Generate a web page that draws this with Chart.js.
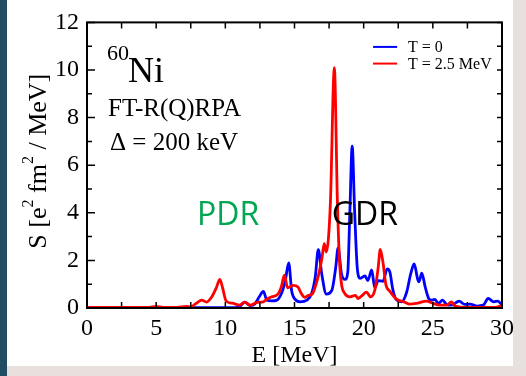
<!DOCTYPE html>
<html>
<head>
<meta charset="utf-8">
<script src="https://cdn.jsdelivr.net/npm/chart.js@4.4.0/dist/chart.umd.min.js"></script>
<style>
  html, body { margin: 0; padding: 0; }
  body { width: 526px; height: 376px; position: relative; overflow: hidden; background: #e7e0dd; }
  #strip { position: absolute; left: 0; top: 0; width: 7px; height: 376px; background: #1f4d63; }
  #panel { position: absolute; left: 7px; top: 0; width: 506px; height: 366px; background: #fff; }
  #c { position: absolute; left: 0; top: 0; }
</style>
</head>
<body>
<div id="strip"></div>
<div id="panel"></div>
<canvas id="c" width="526" height="376"></canvas>
<script>
// strength functions of 60Ni
const energyT0 = [0, 5, 10.5, 11.0, 11.4, 11.8, 12.15, 12.45, 12.75, 13.0, 13.35, 13.7, 14.1, 14.35, 14.58, 14.8, 15.05, 15.4, 15.9, 16.25,
  16.5, 16.72, 16.97, 17.3, 17.7, 17.98, 18.15, 18.4, 18.65, 18.85, 19.0, 19.17, 19.35, 19.55, 19.75, 20.1, 20.3, 20.58, 20.8, 21.05,
  21.4, 21.7, 21.9, 22.1, 22.35, 22.75, 23.1, 23.4, 23.65, 23.9, 24.0, 24.2, 24.45, 24.7, 24.9, 25.15, 25.4, 25.7, 26.0, 26.35,
  26.9, 27.3, 27.7, 28.2, 28.65, 29.0, 29.4, 29.7, 30.0];
const strengthT0 = [0.01, 0.01, 0.01, 0.05, 0.25, 0.1, 0.18, 0.47, 0.7, 0.33, 0.3, 0.32, 0.67, 1.2, 1.9, 0.7, 0.36, 0.26, 0.33, 0.63,
  1.3, 2.45, 1.43, 0.58, 0.74, 1.7, 2.52, 1.43, 1.2, 1.5, 4.0, 6.8, 4.0, 1.6, 1.25, 1.35, 1.15, 1.6, 0.85, 1.15,
  1.12, 1.64, 1.5, 0.8, 0.35, 0.26, 0.65, 1.43, 1.85, 1.22, 1.1, 1.46, 0.88, 0.4, 0.33, 0.36, 0.19, 0.33, 0.15, 0.12,
  0.29, 0.15, 0.16, 0.08, 0.12, 0.4, 0.26, 0.29, 0.12];

const energyT25 = [0, 2, 4.5, 5.0, 5.5, 6.5, 7.2, 7.5, 7.9, 8.3, 8.65, 9.0, 9.35, 9.6, 9.8, 10.05, 10.5, 11.05, 11.4, 11.8,
  12.3, 12.75, 13.0, 13.35, 13.8, 14.05, 14.27, 14.5, 14.9, 15.25, 15.5, 15.75, 16.0, 16.3, 16.7, 16.97, 17.15, 17.3, 17.45, 17.6,
  17.88, 18.1, 18.25, 18.4, 18.65, 19.0, 19.4, 19.6, 19.9, 20.2, 20.5, 20.8, 21.05, 21.2, 21.4, 21.6, 21.9, 22.4, 22.9, 23.35,
  23.8, 24.55, 24.9, 25.5, 26.0, 26.35, 26.6, 27.5, 29.5, 30.0];
const strengthT25 = [0.02, 0.02, 0.03, 0.07, 0.03, 0.03, 0.07, 0.05, 0.2, 0.33, 0.25, 0.45, 0.85, 1.2, 0.85, 0.3, 0.2, 0.12, 0.25, 0.12,
  0.24, 0.26, 0.37, 0.47, 0.58, 0.9, 1.38, 0.85, 0.95, 0.88, 0.6, 0.45, 0.53, 0.6, 1.3, 2.05, 2.7, 2.35, 2.9, 4.5,
  10.1, 4.5, 2.0, 1.0, 0.6, 0.47, 0.53, 0.4, 0.53, 0.67, 0.47, 0.74, 1.7, 2.46, 1.9, 1.0, 0.7, 0.36, 0.26, 0.16,
  0.19, 0.29, 0.22, 0.12, 0.12, 0.26, 0.08, 0.02, 0.03, 0.1];

const seriesLabels = ['T = 0', 'T = 2.5 MeV'];
const xRange = [0, 30];
const yRange = [0, 12];

const serif = '"Liberation Serif", "Times New Roman", serif';

function toPoints(xs, ys) {
  return xs.map((x, i) => ({ x: x, y: ys[i] }));
}

// frame, inward ticks, legend and the text inside the plot
const decorations = {
  id: 'decorations',
  afterDatasetsDraw(chart) {
    const ctx = chart.ctx;
    const { left, right, top, bottom } = chart.chartArea;
    const x = chart.scales.x, y = chart.scales.y;
    ctx.save();
    ctx.strokeStyle = '#000';
    ctx.lineWidth = 2;
    ctx.strokeRect(left, top, right - left, bottom - top);

    ctx.lineWidth = 1.5;
    ctx.beginPath();
    for (let v = xRange[0]; v <= xRange[1]; v += 2.5) {
      const px = x.getPixelForValue(v);
      ctx.moveTo(px, bottom); ctx.lineTo(px, bottom - 6);
      ctx.moveTo(px, top); ctx.lineTo(px, top + 6);
    }
    for (let v = yRange[0]; v <= yRange[1]; v += 1) {
      const py = y.getPixelForValue(v);
      const len = v % 2 === 0 ? 8 : 5;
      ctx.moveTo(left, py); ctx.lineTo(left + len, py);
      ctx.moveTo(right, py); ctx.lineTo(right - 5, py);
    }
    ctx.stroke();

    // legend
    ctx.textBaseline = 'middle';
    ctx.font = '16px ' + serif;
    chart.data.datasets.forEach((ds, i) => {
      const py = y.getPixelForValue(10.97 - i * 0.7);
      ctx.strokeStyle = ds.borderColor;
      ctx.lineWidth = 2;
      ctx.beginPath();
      ctx.moveTo(x.getPixelForValue(20.68), py);
      ctx.lineTo(x.getPixelForValue(22.42), py);
      ctx.stroke();
      ctx.fillStyle = '#000';
      ctx.fillText(ds.label, x.getPixelForValue(23.21), py + 1);
    });

    // labels
    ctx.textBaseline = 'alphabetic';
    ctx.fillStyle = '#000';
    ctx.font = '22px ' + serif;
    ctx.fillText('60', x.getPixelForValue(1.45), y.getPixelForValue(10.43));
    ctx.font = '36px ' + serif;
    ctx.fillText('Ni', x.getPixelForValue(2.96), y.getPixelForValue(9.48));
    ctx.font = '25px ' + serif;
    ctx.fillText('FT-R(Q)RPA', x.getPixelForValue(1.52), y.getPixelForValue(8.08));
    ctx.fillText('\u0394 = 200 keV', x.getPixelForValue(1.66), y.getPixelForValue(6.64));

    ctx.font = '32px "Open Sans", sans-serif';
    ctx.fillStyle = '#00a651';
    ctx.fillText('PDR', x.getPixelForValue(7.95), y.getPixelForValue(3.5));
    ctx.fillStyle = '#000';
    ctx.fillText('GDR', x.getPixelForValue(17.7), y.getPixelForValue(3.5));

    // axis titles
    ctx.font = '24px ' + serif;
    ctx.textAlign = 'center';
    ctx.fillText('E [MeV]', (left + right) / 2, 362);

    ctx.translate(46, (top + bottom) / 2 - 4);
    ctx.rotate(-Math.PI / 2);
    const parts = [['S [e', 0], ['2', 1], [' fm', 0], ['2', 1], [' / MeV]', 0]];
    let total = 0;
    parts.forEach(p => {
      ctx.font = (p[1] ? '16px ' : '26px ') + serif;
      total += ctx.measureText(p[0]).width;
    });
    let cx = -total / 2;
    ctx.textAlign = 'left';
    parts.forEach(p => {
      ctx.font = (p[1] ? '16px ' : '26px ') + serif;
      ctx.fillText(p[0], cx, p[1] ? -13 : 0);
      cx += ctx.measureText(p[0]).width;
    });
    ctx.restore();
  }
};

const chart = new Chart(document.getElementById('c'), {
  type: 'line',
  data: {
    datasets: [
      {
        label: seriesLabels[0],
        data: toPoints(energyT0, strengthT0),
        borderColor: '#0000ff',
        borderWidth: 2.8,
        pointRadius: 0,
        cubicInterpolationMode: 'monotone',
        order: 2
      },
      {
        label: seriesLabels[1],
        data: toPoints(energyT25, strengthT25),
        borderColor: '#ff0000',
        borderWidth: 2.8,
        pointRadius: 0,
        cubicInterpolationMode: 'monotone',
        order: 1
      }
    ]
  },
  options: {
    responsive: false,
    animation: false,
    layout: { padding: { left: 0, top: 17, right: 24, bottom: 0 } },
    plugins: {
      legend: { display: false },
      tooltip: { enabled: false }
    },
    scales: {
      x: {
        type: 'linear',
        min: xRange[0],
        max: xRange[1],
        grid: { display: false, drawTicks: false },
        border: { display: false },
        ticks: { stepSize: 5, maxRotation: 0, autoSkip: false, padding: 6, color: '#000', font: { family: serif, size: 24 } },
        afterFit(scale) { scale.height = 68; }
      },
      y: {
        min: yRange[0],
        max: yRange[1],
        grid: { display: false, drawTicks: false },
        border: { display: false },
        ticks: { stepSize: 2, padding: 8, color: '#000', font: { family: serif, size: 24 } },
        afterFit(scale) { scale.width = 87; }
      }
    }
  },
  plugins: [decorations]
});
</script>
</body>
</html>
